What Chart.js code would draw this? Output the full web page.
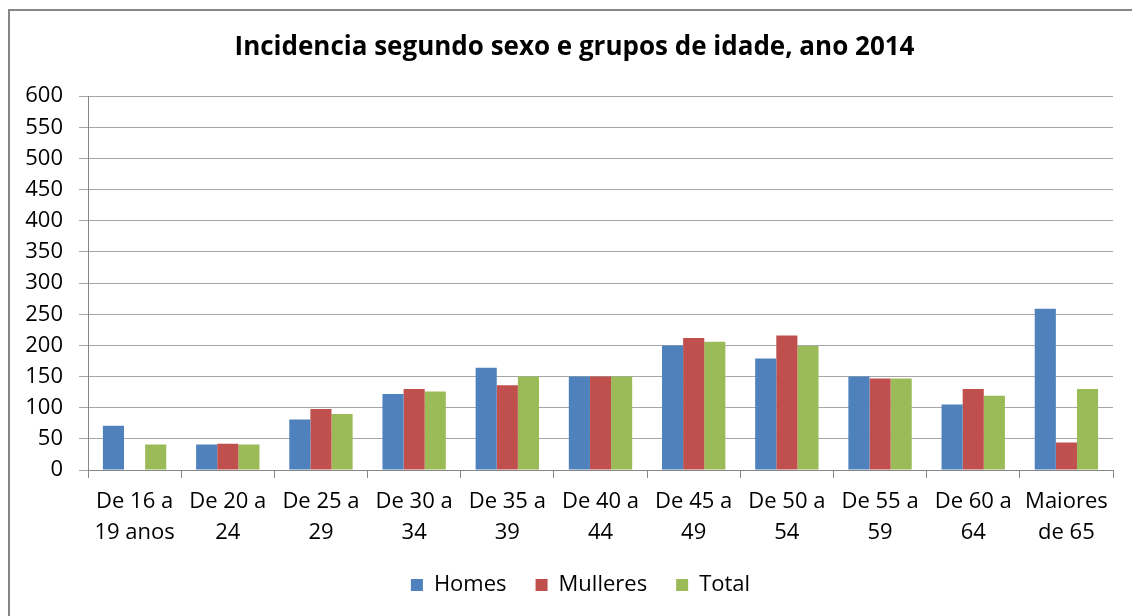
<!DOCTYPE html>
<html>
<head>
<meta charset="utf-8">
<script src="https://cdn.jsdelivr.net/npm/chart.js@4.4.1/dist/chart.umd.min.js"></script>
<style>
  html, body { margin: 0; padding: 0; background: #fff; }
  #wrap { width: 1132px; height: 616px; }
</style>
</head>
<body>
<div id="wrap"><canvas id="chart" width="1132" height="616"></canvas></div>
<script>
const categories = [
    ["De 16 a", "19 anos"], ["De 20 a", "24"], ["De 25 a", "29"], ["De 30 a", "34"],
    ["De 35 a", "39"], ["De 40 a", "44"], ["De 45 a", "49"], ["De 50 a", "54"],
    ["De 55 a", "59"], ["De 60 a", "64"], ["Maiores", "de 65"]
];
const homes = [71, 41, 81, 122, 164, 150, 200, 179, 150, 105, 259];
const mulleres = [null, 42, 98, 130, 136, 150, 212, 216, 147, 130, 44];
const total = [41, 41, 90, 126, 150, 150, 206, 199, 147, 119, 130];

const FONT = "Open Sans";

const frame = {
    id: "frame",
    afterLayout(chart) {
        // centre title and legend a little to the right, like the original
        chart.legend.left += 14;
        chart.legend.right += 14;
        chart.titleBlock.left += 8;
        chart.titleBlock.right += 8;
    },
    beforeDraw(chart) {
        const ctx = chart.ctx;
        ctx.save();
        ctx.fillStyle = "#fff";
        ctx.fillRect(0, 0, chart.width, chart.height);
        ctx.strokeStyle = "#868686";
        ctx.lineWidth = 2;
        ctx.strokeRect(9, 10, 1140, 700);
        ctx.restore();
    }
};

new Chart(document.getElementById("chart"), {
    type: "bar",
    data: {
        labels: categories,
        datasets: [
            { label: "Homes", data: homes, backgroundColor: "#4F81BD" },
            { label: "Mulleres", data: mulleres, backgroundColor: "#C0504D" },
            { label: "Total", data: total, backgroundColor: "#9BBB59" }
        ]
    },
    options: {
        responsive: false,
        animation: false,
        layout: { padding: { left: 20, right: 19, top: 0, bottom: 10 } },
        datasets: { bar: { categoryPercentage: 0.68, barPercentage: 1.0 } },
        plugins: {
            title: {
                display: true,
                text: "Incidencia segundo sexo e grupos de idade, ano 2014",
                color: "#000",
                font: { family: FONT, size: 26, weight: "bold", lineHeight: 1.2 },
                padding: { top: 32, bottom: 33 }
            },
            legend: {
                position: "bottom",
                labels: {
                    color: "#000",
                    font: { family: FONT, size: 22 },
                    boxWidth: 12,
                    boxHeight: 12,
                    padding: 29
                }
            },
            tooltip: { enabled: false }
        },
        scales: {
            x: {
                grid: { drawOnChartArea: false, drawTicks: true, tickLength: 8, color: "#888" },
                border: { color: "#888" },
                ticks: {
                    color: "#000",
                    maxRotation: 0,
                    autoSkip: false,
                    padding: 8,
                    font: { family: FONT, size: 22, lineHeight: 1.41 }
                },
                afterFit(scale) { scale.height = 75; }
            },
            y: {
                min: 0,
                max: 600,
                grid: { color: "#a6a6a6", tickLength: 9 },
                border: { color: "#888" },
                ticks: {
                    stepSize: 50,
                    color: "#000",
                    padding: 16,
                    font: { family: FONT, size: 22 }
                },
                afterFit(scale) { scale.width = 68; }
            }
        }
    },
    plugins: [frame]
});
</script>
</body>
</html>
